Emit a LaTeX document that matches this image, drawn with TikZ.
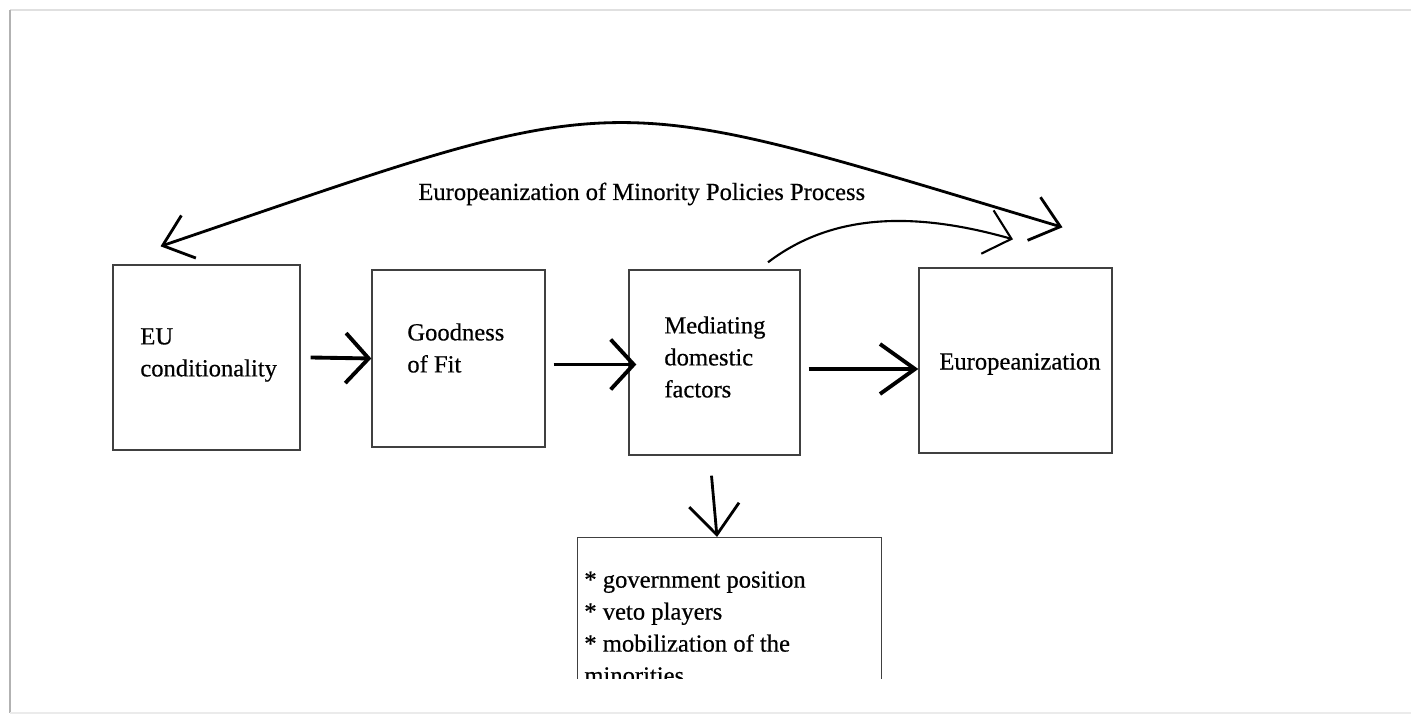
\documentclass[tikz,border=0pt]{standalone}
\usepackage{fontspec}
\setmainfont[FakeBold=0.5]{Liberation Serif}
\usetikzlibrary{arrows.meta,calc}

\begin{document}
\begin{tikzpicture}[
    x=0.02cm, y=-0.02cm,
    font=\fontsize{14}{18.2}\selectfont,
    box/.style={
        rectangle,
        draw=black!75,
        line width=0.8pt,
        inner sep=0pt
    },
    txt/.style={
        align=left,
        inner sep=0pt,
        anchor=west
    },
    flow/.style={
        line width=2.2pt,
        -{Straight Barb[length=#1,width=10mm]}
    },
    flow/.default=4.6mm,
    span/.style={
        line width=1.6pt,
        {Straight Barb[length=5.5mm,width=9mm]}-{Straight Barb[length=5.5mm,width=9mm]}
    },
]
\useasboundingbox (0,0) rectangle (1411,715);

\draw[black!12, line width=1.2pt] (1411,10) -- (10,10);
\draw[black!30, line width=1.5pt] (10,10) -- (10,713);
\draw[black!8, line width=1pt] (10,713) -- (1411,713);

\node[box, minimum width=3.74cm, minimum height=3.7cm]  (eu)  at (206.5,357.5) {};
\node[box, minimum width=3.46cm, minimum height=3.54cm] (fit) at (458.5,358.5) {};
\node[box, minimum width=3.42cm, minimum height=3.7cm]  (med) at (714.5,362.5) {};
\node[box, minimum width=3.86cm, minimum height=3.7cm]  (eur) at (1015.5,360.5) {};

\node[txt] (eutxt)  at (140,355) {EU\\conditionality};
\node[txt] (fittxt) at (407,348) {Goodness\\of Fit};
\node[txt] (medtxt) at (664,357) {Mediating\\domestic\\factors};
\node[txt] (eurtxt) at (939,364) {Europeanization};
\node[txt, anchor=base west] (title) at (418,200) {Europeanization of Minority Policies Process};

\begin{scope}
\clip (0,0) rectangle (1411,679);
\node[box, minimum width=6.08cm, minimum height=3.4cm, anchor=north west] (list) at (577,537) {};
\node[txt, anchor=north west] (listtxt) at (584,571) {* government position\\* veto players\\* mobilization of the\\minorities};
\end{scope}

\draw[flow] ($(eu.east)+(10,0)$) -- (fit.west);
\draw[flow] ($(fit.east |- med.west)+(8,2)$) -- ($(med.west)+(8,2)$);
\draw[flow=7mm] ($(med.east)+(8,6.5)$) -- ($(eur.west)+(0,8.5)$);
\draw[flow=6mm, line width=1.6pt] ($(med.south)+(-3,20)$) -- ($(list.north west)+(140,0)$);

\coordinate (arcL) at ($(eu.north)+(-46,-18)$);
\coordinate (arcR) at ($(eur.north)+(47,-40)$);
\draw[span] (arcL) .. controls (635,85) and (588,85) .. (arcR);

\coordinate (medtop) at ($(med.north)+(53.5,-7)$);
\coordinate (eurtop) at ($(eur.north)+(-2.5,-28)$);
\draw[line width=1.2pt, -{Straight Barb[length=5mm,width=9mm]}] (medtop) .. controls (830,215) and (910,210) .. (eurtop);

\end{tikzpicture}
\end{document}
